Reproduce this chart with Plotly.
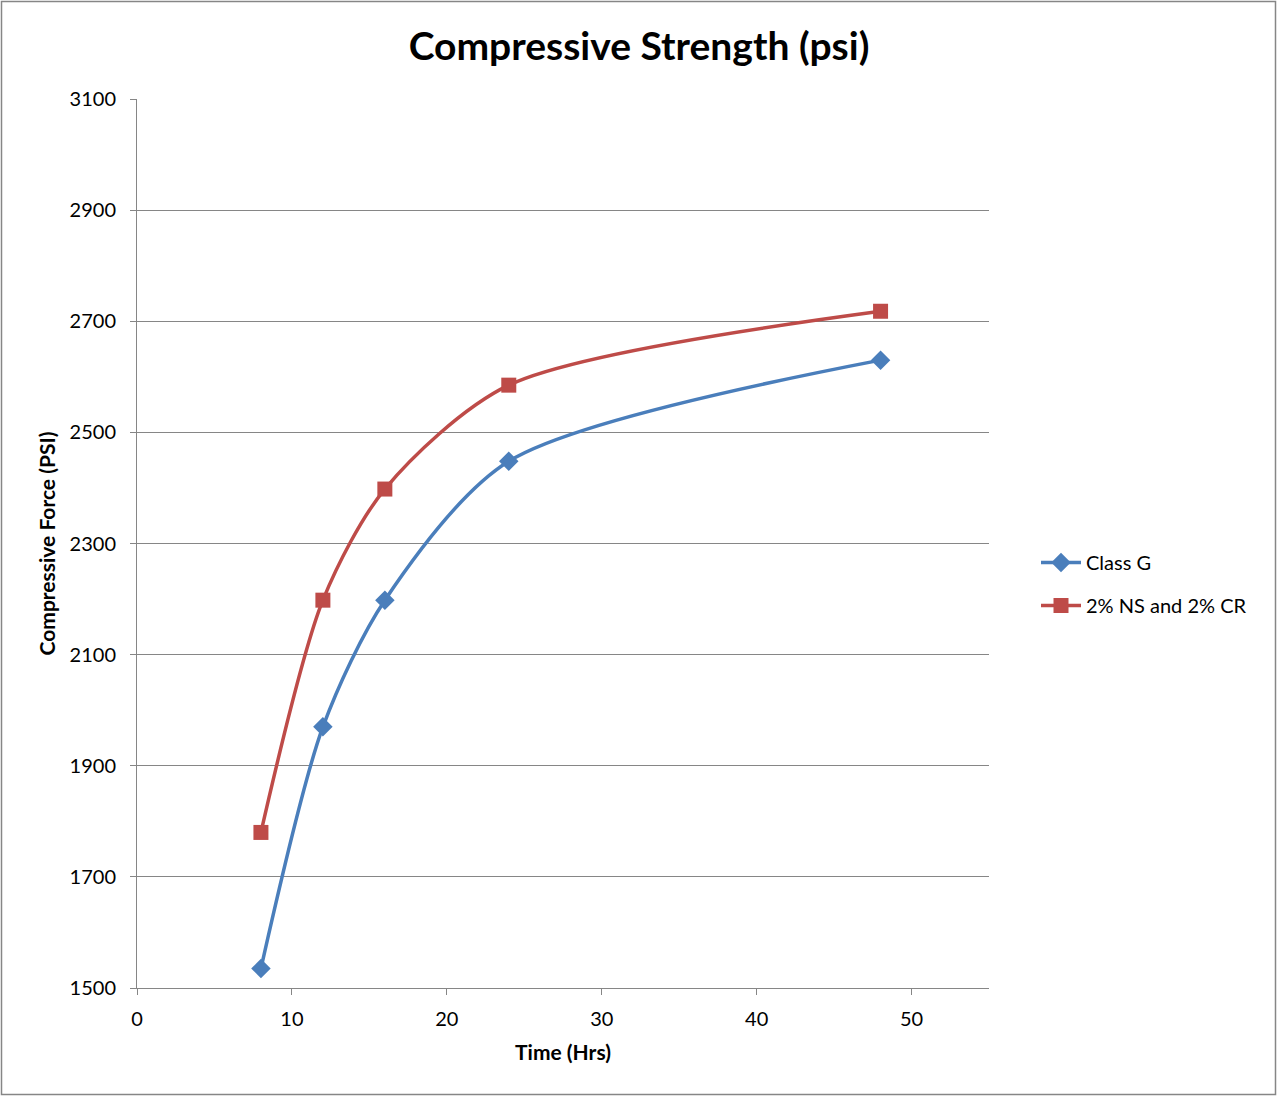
import plotly.graph_objects as go

time_hrs = [8, 12, 16, 24, 48]
class_g = [1535, 1970, 2198, 2448, 2630]
ns_cr = [1780, 2198, 2398, 2585, 2718]

series_names = ["Class G", "2% NS and 2% CR"]
x_ticks = [0, 10, 20, 30, 40, 50]
y_ticks = [1500, 1700, 1900, 2100, 2300, 2500, 2700, 2900, 3100]

FONT = "Lato, 'Open Sans', sans-serif"

fig = go.Figure()
fig.add_trace(go.Scatter(
    x=time_hrs, y=class_g, name=series_names[0], mode="lines+markers",
    legendgroup="a",
    line=dict(color="#4A7EBB", width=3.5, shape="spline", smoothing=0.8),
    marker=dict(symbol="diamond", size=15, color="#4A7EBB"),
))
fig.add_trace(go.Scatter(
    x=time_hrs, y=ns_cr, name=series_names[1], mode="lines+markers",
    legendgroup="b",
    line=dict(color="#BE4B48", width=3.5, shape="spline", smoothing=0.8),
    marker=dict(symbol="square", size=15, color="#BE4B48"),
))

W, H = 1278, 1097
L, R, T, B = 137, 289, 99, 109
pw, ph = W - L - R, H - T - B

fig.update_layout(
    width=W, height=H,
    margin=dict(l=L, r=R, t=T, b=B),
    paper_bgcolor="white", plot_bgcolor="white",
    font=dict(family=FONT, color="black", size=20),
    title=dict(text="<b>Compressive Strength (psi)</b>", x=(639 - L) / pw, xref="paper",
               xanchor="center", y=1 - 46 / H, yanchor="middle",
               font=dict(size=39, family=FONT)),
    xaxis=dict(range=[0, 55], tickvals=x_ticks, showgrid=False,
               showline=True, linecolor="#868686", linewidth=1,
               ticks="outside", ticklen=6, tickcolor="#868686",
               ticklabelstandoff=7, zeroline=False,
               title=dict(text="<b>Time (Hrs)</b>", font=dict(size=21), standoff=16)),
    yaxis=dict(range=[1500, 3100], tickvals=y_ticks, showgrid=True,
               gridcolor="#868686", gridwidth=1,
               showline=True, linecolor="#868686", linewidth=1,
               ticks="outside", ticklen=6, tickcolor="#868686",
               ticklabelstandoff=10, zeroline=False,
               title=dict(text="<b>Compressive Force (PSI)</b>", font=dict(size=21), standoff=8)),
    legend=dict(x=(1036 - L) / pw, xanchor="left", y=(988 - 584) / ph, yanchor="middle",
                font=dict(size=20), bgcolor="rgba(0,0,0,0)", tracegroupgap=14,
                itemwidth=40),
    showlegend=True,
)

fig.add_shape(type="rect", xref="paper", yref="paper",
              x0=(1.5 - L) / pw, x1=(W - 2.5 - L) / pw,
              y0=-(B - 2.5) / ph,
              y1=1 + (T - 1.5) / ph,
              line=dict(color="#868686", width=1.5), layer="below")

fig.write_html("out.html")
